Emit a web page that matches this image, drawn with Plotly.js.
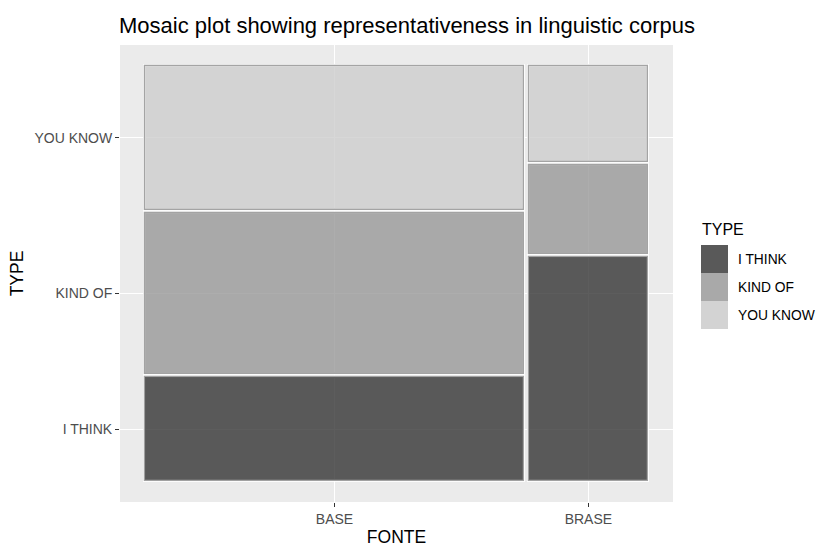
<!DOCTYPE html>
<html>
<head>
<meta charset="utf-8">
<script src="https://cdn.plot.ly/plotly-3.0.1.min.js"></script>
<style>html,body{margin:0;padding:0;background:#fff;}#chart{width:818px;height:547px;}</style>
</head>
<body>
<div id="chart"></div>
<script>
// ---- data ----
const fonte = ['BASE', 'BRASE'];
const types = ['I THINK', 'KIND OF', 'YOU KNOW'];
const countsIThink = [194, 131];
const countsKindOf = [299, 52];
const countsYouKnow = [268, 56];

// ---- styles ----
const fillColors = ['rgba(52,52,52,0.8)', 'rgba(153,153,153,0.8)', 'rgba(205,205,205,0.8)'];
const keyColors = ['#595959', '#a9a9a9', '#d3d3d3'];
const FF = 'Liberation Sans, Arial, sans-serif';

// ---- mosaic geometry computed from counts ----
const counts = [countsIThink, countsKindOf, countsYouKnow];
const colTotals = fonte.map((f, j) => counts.reduce((s, c) => s + c[j], 0));
const grand = colTotals.reduce((a, b) => a + b, 0);
const xGap = 0.01, yGap = 0.007;
const availX = 1 - xGap * (fonte.length - 1);
const widths = colTotals.map(t => t / grand * availX);
const lefts = [];
let acc = 0;
widths.forEach((w, j) => { lefts.push(acc); acc += w + xGap; });
const centers = widths.map((w, j) => lefts[j] + w / 2);

const availY = 1 - yGap * (types.length - 1);
const heights = counts.map(c => c.map((v, j) => v / colTotals[j] * availY));
const bases = [];
const running = fonte.map(() => 0);
heights.forEach((h, i) => {
  bases.push(running.slice());
  h.forEach((v, j) => { running[j] += v + yGap; });
});

const traces = [];
// white halo underneath each tile
types.forEach((t, i) => {
  traces.push({
    type: 'bar', x: centers, y: heights[i], base: bases[i], width: widths,
    marker: {color: 'rgba(255,255,255,0)', line: {color: 'rgba(255,255,255,0.85)', width: 3}},
    hoverinfo: 'skip', showlegend: false
  });
});
types.forEach((t, i) => {
  traces.push({
    type: 'bar', name: t, x: centers, y: heights[i], base: bases[i], width: widths,
    marker: {color: fillColors[i], line: {color: 'rgba(160,160,160,0.95)', width: 1.2}},
    showlegend: false,
    text: fonte.map((f, j) => f + ' / ' + t + ': ' + counts[i][j]),
    hoverinfo: 'text', textposition: 'none'
  });
});

// y tick positions: mid-points of the first column's tiles
const yTicks = types.map((t, i) => bases[i][0] + heights[i][0] / 2);

// ---- legend (built from types) ----
const L = 120, R = 673, T = 45, B = 502;
const px = v => (v - L) / (R - L);
const py = v => (B - v) / (B - T);
const shapes = [];
const annotations = [{
  text: 'TYPE', xref: 'paper', yref: 'paper', x: px(700), y: py(229),
  xanchor: 'left', yanchor: 'middle', showarrow: false,
  font: {family: FF, size: 16, color: '#000'}
}];
types.forEach((t, i) => {
  const top = 245 + i * 28;
  shapes.push({
    type: 'rect', xref: 'paper', yref: 'paper',
    x0: px(701), x1: px(728), y0: py(top + 28), y1: py(top),
    fillcolor: keyColors[i], line: {width: 0}, layer: 'above'
  });
  annotations.push({
    text: t, xref: 'paper', yref: 'paper', x: px(736), y: py(top + 14),
    xanchor: 'left', yanchor: 'middle', showarrow: false,
    font: {family: FF, size: 13.8, color: '#000'}
  });
});

const layout = {
  width: 818, height: 547,
  margin: {l: L, r: 818 - R, t: T, b: 547 - B, pad: 0},
  paper_bgcolor: '#ffffff', plot_bgcolor: '#ebebeb',
  barmode: 'overlay', bargap: 0,
  showlegend: false,
  font: {family: FF},
  title: {
    text: 'Mosaic plot showing representativeness in linguistic corpus',
    x: 119 / 818, xref: 'container', xanchor: 'left',
    y: 1 - 25 / 547, yref: 'container', yanchor: 'middle',
    automargin: false,
    font: {family: FF, size: 22, color: '#000'}
  },
  xaxis: {
    range: [-0.05, 1.05], tickvals: centers, ticktext: fonte,
    showgrid: true, gridcolor: '#ffffff', gridwidth: 1.1, zeroline: false,
    ticks: 'outside', ticklen: 4, tickcolor: '#333333', tickwidth: 1,
    tickfont: {size: 14, color: '#4d4d4d'},
    showline: false, fixedrange: true,
    title: {text: 'FONTE', standoff: 4, font: {size: 17.5, color: '#000'}}
  },
  yaxis: {
    range: [-0.05, 1.05], tickvals: yTicks, ticktext: types,
    showgrid: true, gridcolor: '#ffffff', gridwidth: 1.1, zeroline: false,
    ticks: 'outside', ticklen: 4, tickcolor: '#333333', tickwidth: 1,
    tickfont: {size: 14, color: '#4d4d4d'},
    showline: false, fixedrange: true,
    title: {text: 'TYPE', standoff: 6, font: {size: 17.5, color: '#000'}}
  },
  shapes: shapes,
  annotations: annotations
};

Plotly.newPlot('chart', traces, layout, {displayModeBar: false, staticPlot: false});
</script>
</body>
</html>
